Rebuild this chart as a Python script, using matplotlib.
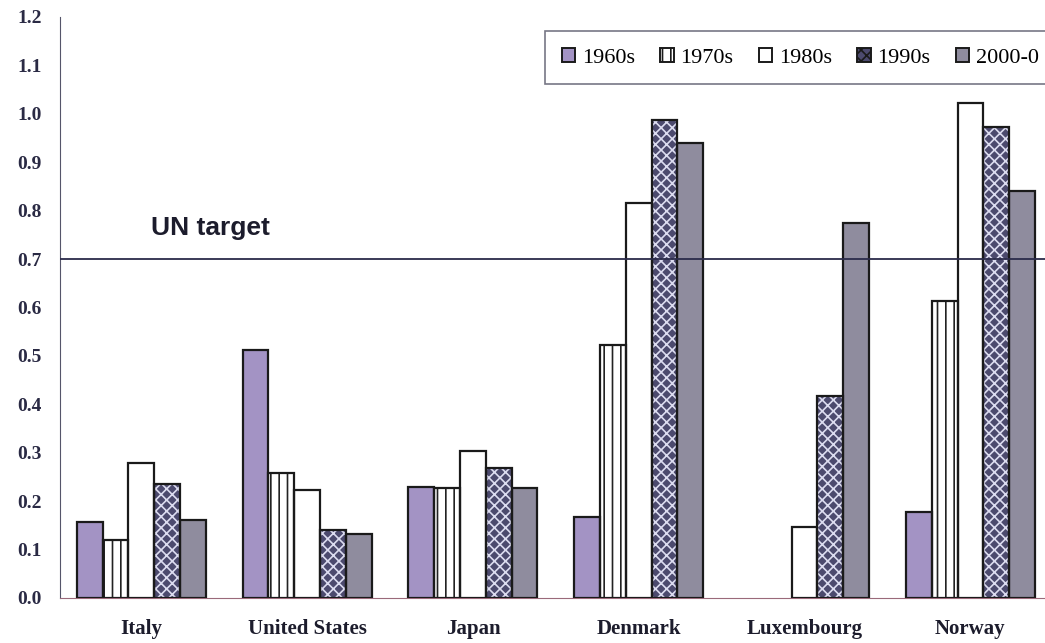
import numpy as np
import matplotlib
matplotlib.use('Agg')
import matplotlib.pyplot as plt

# data
countries = ['Italy', 'United States', 'Japan', 'Denmark', 'Luxembourg', 'Norway']
decades = ['1960s', '1970s', '1980s', '1990s', '2000-0']
v1960s = [0.157, 0.512, 0.229, 0.167, 0.0, 0.178]
v1970s = [0.120, 0.258, 0.228, 0.523, 0.0, 0.613]
v1980s = [0.279, 0.223, 0.304, 0.816, 0.147, 1.022]
v1990s = [0.235, 0.140, 0.269, 0.987, 0.417, 0.973]
v2000s = [0.161, 0.132, 0.227, 0.940, 0.775, 0.840]
un_target = 0.7
yticks = [0.0, 0.1, 0.2, 0.3, 0.4, 0.5, 0.6, 0.7, 0.8, 0.9, 1.0, 1.1, 1.2]

series = [v1960s, v1970s, v1980s, v1990s, v2000s]
faces = ['#a393c4', 'white', 'white', '#4c4a6e', '#8f8c9e']
hatches = [None, '||', None, 'xxx', None]
hatch_cols = ['#222222', '#222222', '#222222', '#dcdcf0', '#222222']

fig = plt.figure(figsize=(10.45, 6.43), dpi=100)
ax = fig.add_axes([0.0574, 0.07, 0.949, 0.9036])

x = np.arange(len(countries))
w = 0.1556
handles = []
plt.rcParams['hatch.linewidth'] = 1.2
for i, vals in enumerate(series):
    pos = x + (i - 2) * w
    vals = np.array(vals)
    keep = vals > 0
    if hatches[i] is not None:
        ax.bar(pos[keep], vals[keep], w, color=faces[i], hatch=hatches[i],
               edgecolor=hatch_cols[i], linewidth=0, zorder=2)
    else:
        ax.bar(pos[keep], vals[keep], w, color=faces[i], linewidth=0, zorder=2)
    ax.bar(pos[keep], vals[keep], w, fill=False, edgecolor='#1a1a1a', linewidth=1.6, zorder=3)
    h = plt.Rectangle((0, 0), 1, 1, facecolor=faces[i], hatch=hatches[i],
                      edgecolor='#1a1a1a', linewidth=1.4)
    handles.append(h)

ax.axhline(un_target, color='#2b2b4a', linewidth=1.3, zorder=4)
ax.text(0.06, 0.765, 'UN target', family='Liberation Sans', fontweight='bold',
        fontsize=19, color='#1c1c2c', va='center', ha='left')

ax.set_xlim(-0.49, 5.49)
ax.set_ylim(0, 1.2)
ax.set_yticks(yticks)
ax.set_yticklabels(['%.1f' % t for t in yticks], family='Liberation Serif',
                   fontweight='bold', fontsize=14, color='#2a2a44')
ax.set_xticks(x)
ax.set_xticklabels(countries, family='Liberation Serif', fontweight='bold',
                   fontsize=15, color='#1c1c2c')
ax.tick_params(axis='y', length=0, pad=13)
ax.tick_params(axis='x', length=0, pad=15)
ax.spines['top'].set_visible(False)
ax.spines['right'].set_visible(False)
ax.spines['left'].set_color('#55556a')
ax.spines['bottom'].set_color('#9a6a7a')

leg = fig.legend(handles, decades, loc='upper left', bbox_to_anchor=(545 / 1045, 1 - 31 / 643),
                 ncol=5, frameon=True, fancybox=False, edgecolor='#555566',
                 prop={'family': 'Liberation Serif', 'size': 16},
                 handlelength=0.6, handleheight=0.6, handletextpad=0.3,
                 columnspacing=1.15, borderpad=0.75, borderaxespad=0)
leg.get_frame().set_linewidth(1.2)

fig.savefig('out.png', dpi=100)
